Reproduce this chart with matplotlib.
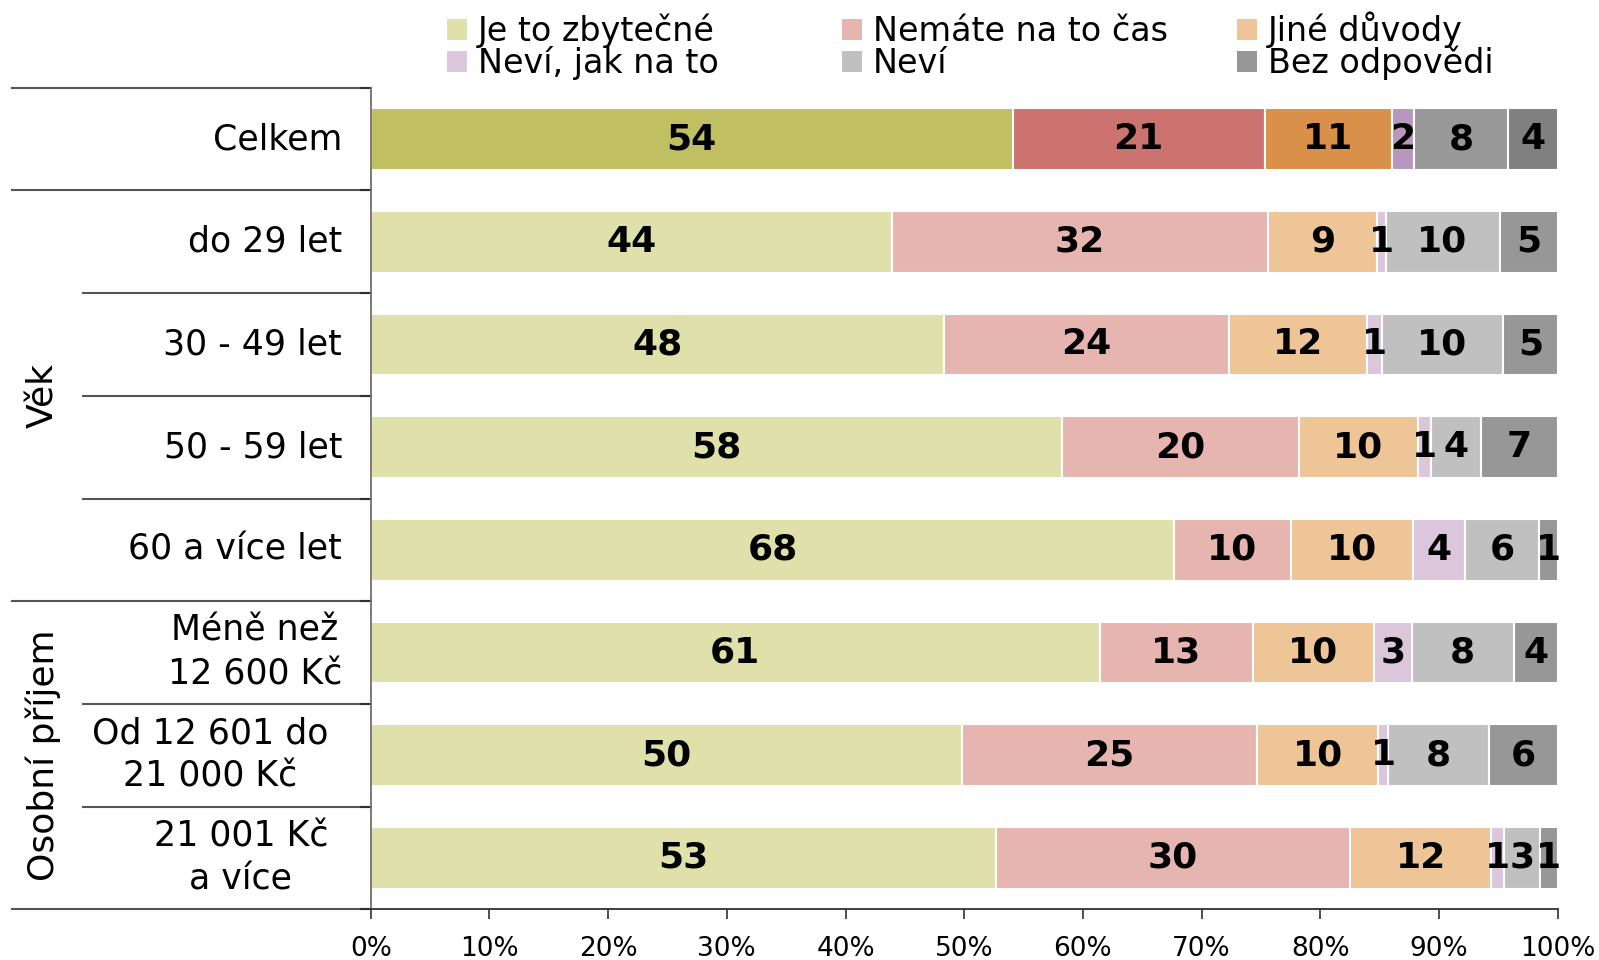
import matplotlib
matplotlib.use("Agg")
import matplotlib.pyplot as plt
from matplotlib.patches import Rectangle
from matplotlib.transforms import blended_transform_factory

plt.rcParams["font.family"] = ["DejaVu Sans"]

rows = ["Celkem", "do 29 let", "30 - 49 let", "50 - 59 let", "60 a více let",
        "Méně než\n12 600 Kč", "Od 12 601 do\n21 000 Kč", "21 001 Kč\na více"]
groups = [("Věk", 1, 5), ("Osobní příjem", 5, 8)]

series = ["Je to zbytečné", "Nemáte na to čas", "Jiné důvody",
          "Neví, jak na to", "Neví", "Bez odpovědi"]

# bar widths (share in %)
zbytecne = [54.1, 43.9, 48.3, 58.2, 67.7, 61.4, 49.8, 52.7]
nemate_cas = [21.2, 31.7, 24.0, 20.0, 9.8, 12.9, 24.9, 29.8]
jine = [10.7, 9.2, 11.6, 10.0, 10.3, 10.2, 10.2, 11.9]
nevi_jak = [1.9, 0.7, 1.3, 1.1, 4.4, 3.2, 0.8, 1.1]
nevi = [7.9, 9.6, 10.2, 4.2, 6.2, 8.6, 8.5, 3.0]
bez_odpovedi = [4.2, 4.9, 4.6, 6.5, 1.6, 3.7, 5.8, 1.5]

# printed (rounded) values
lab_zbytecne = [54, 44, 48, 58, 68, 61, 50, 53]
lab_nemate_cas = [21, 32, 24, 20, 10, 13, 25, 30]
lab_jine = [11, 9, 12, 10, 10, 10, 10, 12]
lab_nevi_jak = [2, 1, 1, 1, 4, 3, 1, 1]
lab_nevi = [8, 10, 10, 4, 6, 8, 8, 3]
lab_bez = [4, 5, 5, 7, 1, 4, 6, 1]

values = [zbytecne, nemate_cas, jine, nevi_jak, nevi, bez_odpovedi]
labels = [lab_zbytecne, lab_nemate_cas, lab_jine, lab_nevi_jak, lab_nevi, lab_bez]

colors_total = ["#C0C062", "#CC7370", "#D9914A", "#B897BF", "#999999", "#808080"]
colors_light = ["#E0E0AA", "#E6B5B0", "#EDC597", "#DBC6DB", "#C0C0C0", "#979797"]

W, H = 1599, 960
fig = plt.figure(figsize=(W / 100, H / 100), dpi=100)
ax = fig.add_axes([370.7 / W, 1 - 909.3 / H, (1557.7 - 370.7) / W, (909.3 - 87.7) / H])

n = len(rows)
ycent = [i + 0.5 for i in range(n)]
left = [0.0] * n
for k, (vals, labs) in enumerate(zip(values, labels)):
    cols = [colors_total[k] if i == 0 else colors_light[k] for i in range(n)]
    ax.barh(ycent, vals, left=left, height=0.6, color=cols,
            edgecolor="white", linewidth=1.5, zorder=2)
    for i in range(n):
        ax.text(left[i] + vals[i] / 2, ycent[i], str(labs[i]),
                ha="center", va="center", fontsize=26, fontweight="bold",
                color="black", zorder=4)
    left = [a + b for a, b in zip(left, vals)]

ax.set_xlim(0, 100)
ax.set_ylim(n, 0)
ax.set_xticks(range(0, 101, 10))
ax.set_xticklabels([f"{t}%" for t in range(0, 101, 10)], fontsize=19)
ax.set_yticks(range(0, n + 1))
ax.set_yticklabels([])
ax.tick_params(axis="x", direction="out", length=7, width=1.2, color="#303030", pad=12)
ax.tick_params(axis="y", direction="out", length=8, width=1.5, color="#303030")
for side in ("top", "right"):
    ax.spines[side].set_visible(False)
ax.spines["left"].set_color("#707070")
ax.spines["left"].set_linewidth(1.3)
ax.spines["bottom"].set_color("#303030")
ax.spines["bottom"].set_linewidth(1.3)

# table on the left
tr = blended_transform_factory(fig.transFigure, ax.transData)
full_lines = {0, 1, 5, 8}
for b in range(n + 1):
    x0 = 12 / W if b in full_lines else 83 / W
    ax.plot([x0, 370.7 / W], [b, b], transform=tr, clip_on=False,
            color="#555555", linewidth=1.5, zorder=1)

label_right = [342, 342, 342, 342, 342, 342, 328, 328]
for i, name in enumerate(rows):
    ax.text(label_right[i] / W, ycent[i], name, transform=tr,
            ha="right", va="center", multialignment="center",
            fontsize=25, linespacing=1.35)

for name, y0, y1 in groups:
    ax.text(43 / W, (y0 + y1) / 2, name, transform=tr, rotation=90,
            ha="center", va="center", fontsize=26)

# legend drawn in figure coordinates, 3 columns x 2 rows
legend_cols = [447, 842, 1237]
legend_base = [41, 73]
for k in range(len(series)):
    col, row = k % 3, k // 3
    x = legend_cols[col]
    yb = legend_base[row]
    fig.patches.append(Rectangle((x / W, 1 - (yb - 1) / H), 20 / W, 21 / H,
                                 transform=fig.transFigure, facecolor=colors_light[k],
                                 edgecolor="none"))
    fig.text((x + 31) / W, 1 - yb / H, series[k], ha="left", va="baseline",
             fontsize=24)

fig.savefig("out.png", dpi=100)
